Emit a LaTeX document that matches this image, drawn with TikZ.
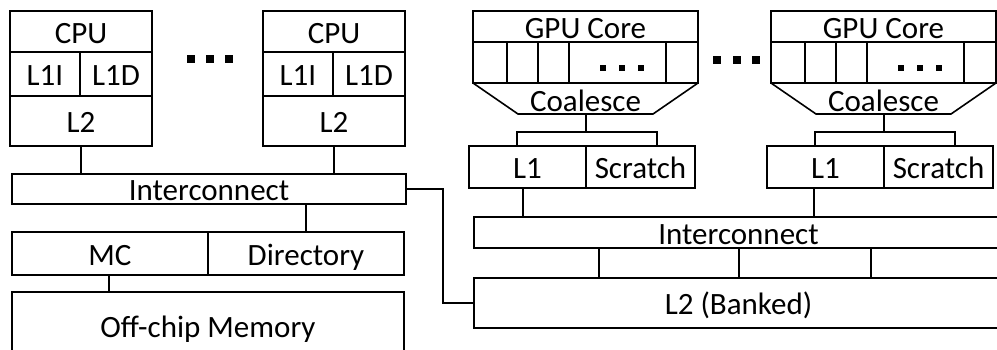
\documentclass[tikz,border=0pt]{standalone}
\usepackage{fontspec}
\setmainfont{Carlito}
\begin{document}
\begin{tikzpicture}[x=1pt,y=-1pt,line width=1.6pt,
  box/.style={draw,inner sep=0pt,text height=23pt,text depth=0pt,font=\fontsize{31}{32}\selectfont},
  lbl/.style={inner sep=0pt,text height=23pt,text depth=0pt,font=\fontsize{31}{32}\selectfont},
  wire/.style={line width=1.6pt}]
\useasboundingbox (0,0) rectangle (997,349);
\clip (0,0) rectangle (997,349);

% ---------- CPU side ----------
\foreach \s/\n in {0/a,253/b}{
  \node[box,minimum width=142pt,minimum height=41pt] (cpu\n) at (81+\s,31.5) {CPU};
  \node[box,minimum width=70pt,minimum height=44pt] (lii\n) at (45+\s,74) {L1I};
  \node[box,minimum width=72pt,minimum height=44pt] (lid\n) at (116+\s,74) {L1D};
  \node[box,minimum width=142pt,minimum height=50pt] (ltwo\n) at (81+\s,121) {L2};
}
\foreach \x in {191,210,229}{\fill (\x-3.6,55.4) rectangle (\x+3.6,62.6);}

\node[box,minimum width=394pt,minimum height=30pt] (icpu) at (209,189) {Interconnect};
\node[box,minimum width=196pt,minimum height=43pt] (mc) at (110,253.5) {MC};
\node[box,minimum width=196pt,minimum height=43pt] (dir) at (306,253.5) {Directory};
\node[box,minimum width=392pt,minimum height=68pt] (mem) at (208,326) {Off-chip Memory};

\draw[wire] (ltwoa.south) -- (ltwoa.south |- icpu.north);
\draw[wire] (ltwob.south) -- (ltwob.south |- icpu.north);
\draw[wire] (icpu.south -| 306,0) -- (dir.north);
\draw[wire] (mc.south -| 109,0) -- (mem.north -| 109,0);

% ---------- GPU side ----------
\foreach \s/\n/\d in {0/a/523,298/b/814}{
  \node[box,minimum width=225pt,minimum height=31pt] (gpu\n) at (585.5+\s,26.5) {GPU Core};
  \node[box,minimum width=34pt,minimum height=41pt] (sa\n) at (490+\s,62.5) {};
  \node[box,minimum width=31pt,minimum height=41pt] (sb\n) at (522.5+\s,62.5) {};
  \node[box,minimum width=31pt,minimum height=41pt] (sc\n) at (553.5+\s,62.5) {};
  \node[box,minimum width=97pt,minimum height=41pt] (sd\n) at (617.5+\s,62.5) {};
  \node[box,minimum width=32pt,minimum height=41pt] (se\n) at (682+\s,62.5) {};
  \foreach \x in {603,622,641}{\fill (\x+\s-3.4,64.6) rectangle (\x+\s+3.4,71.4);}
  \draw (473+\s,83) -- (518+\s,114) -- (653+\s,114) -- (698+\s,83);
  \node[lbl] (coal\n) at (585.5+\s,99.5) {Coalesce};
  \node[box,minimum width=117pt,minimum height=42pt] (lone\n) at (527.5+\s,167) {L1};
  \node[box,minimum width=109pt,minimum height=42pt] (scr\n) at (640.5+\s,167) {Scratch};
  \coordinate (cb\n) at (586+\s,114);
  \coordinate (bl\n) at (517+\s,132);
  \coordinate (br\n) at (657+\s,132);
  \draw[wire] (cb\n) -- (cb\n |- bl\n);
  \draw[wire] (bl\n |- lone\n.north) -- (bl\n) -- (br\n) -- (br\n |- scr\n.north);
  \coordinate (ld\n) at (\d,188);
}
\foreach \x in {717,737,756}{\fill (\x-3.6,56.4) rectangle (\x+3.6,63.6);}

\node[box,minimum width=529pt,minimum height=31pt] (igpu) at (738.5,232.5) {Interconnect};
\node[box,minimum width=529pt,minimum height=50pt] (lbank) at (738.5,303) {L2 (Banked)};

\draw[wire] (lda) -- (lda |- igpu.north);
\draw[wire] (ldb) -- (ldb |- igpu.north);
\foreach \x in {599,739,871}{\draw[wire] (igpu.south -| \x,0) -- (lbank.north -| \x,0);}

% link between the two interconnects
\draw[wire] (icpu.east) -- (443,189) -- (443,303) -- (lbank.west);
\end{tikzpicture}
\end{document}
